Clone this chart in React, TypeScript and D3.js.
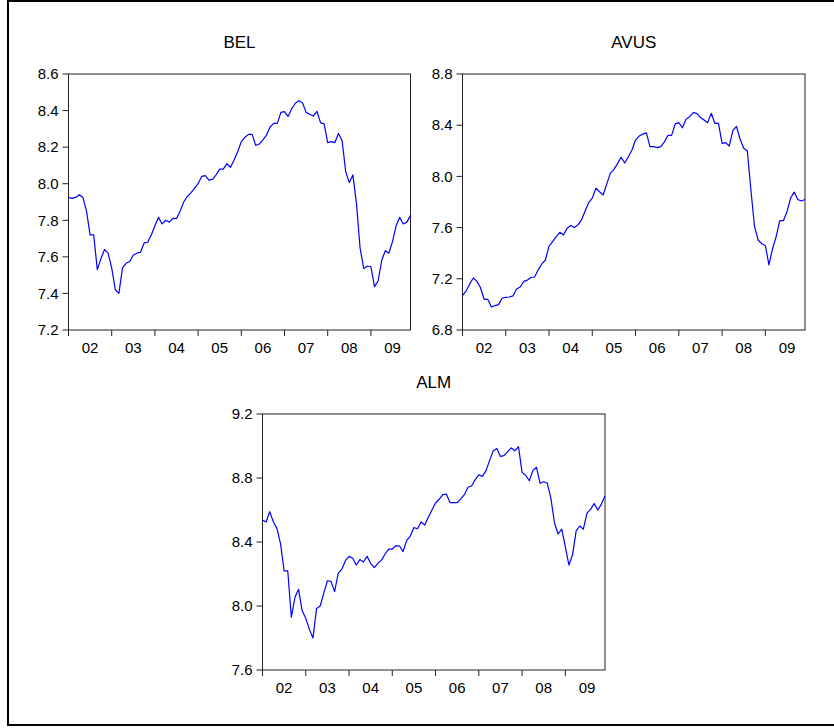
import React from "react";
import * as d3 from "d3";

const YEARS = ["02", "03", "04", "05", "06", "07", "08", "09"];
const MONTHS_PER_YEAR = 12;

const BEL = [
  7.925, 7.92, 7.925, 7.94, 7.925, 7.85, 7.72, 7.72, 7.53, 7.59, 7.64, 7.62,
  7.54, 7.42, 7.40, 7.54, 7.565, 7.575, 7.61, 7.62, 7.625, 7.676, 7.68, 7.72,
  7.77, 7.816, 7.78, 7.80, 7.79, 7.81, 7.81, 7.85, 7.90, 7.93, 7.95, 7.975,
  8.00, 8.04, 8.044, 8.02, 8.024, 8.048, 8.08, 8.08, 8.11, 8.09, 8.13, 8.175,
  8.23, 8.254, 8.27, 8.27, 8.21, 8.217, 8.24, 8.266, 8.31, 8.33, 8.33, 8.39,
  8.394, 8.367, 8.41, 8.44, 8.454, 8.443, 8.39, 8.38, 8.37, 8.396, 8.334, 8.327,
  8.225, 8.23, 8.225, 8.275, 8.235, 8.066, 8.006, 8.048, 7.89, 7.647, 7.537, 7.55,
  7.546, 7.437, 7.468, 7.58, 7.634, 7.62, 7.683, 7.77, 7.816, 7.78, 7.79, 7.827,
];

const AVUS = [
  7.068, 7.105, 7.16, 7.206, 7.18, 7.13, 7.04, 7.04, 6.98, 6.99, 6.998, 7.05,
  7.055, 7.058, 7.066, 7.12, 7.136, 7.18, 7.19, 7.21, 7.214, 7.27, 7.316, 7.347,
  7.456, 7.49, 7.53, 7.563, 7.542, 7.594, 7.617, 7.60, 7.62, 7.66, 7.73, 7.795,
  7.83, 7.907, 7.88, 7.855, 7.94, 8.024, 8.055, 8.10, 8.15, 8.105, 8.154, 8.206,
  8.284, 8.315, 8.33, 8.34, 8.232, 8.232, 8.225, 8.232, 8.27, 8.32, 8.32, 8.41,
  8.42, 8.38, 8.446, 8.467, 8.498, 8.493, 8.46, 8.44, 8.42, 8.493, 8.415, 8.415,
  8.258, 8.264, 8.238, 8.36, 8.39, 8.29, 8.22, 8.198, 7.894, 7.607, 7.503, 7.474,
  7.46, 7.308, 7.435, 7.53, 7.654, 7.654, 7.724, 7.83, 7.878, 7.82, 7.808, 7.82,
];

const ALM = [
  8.537, 8.525, 8.59, 8.527, 8.485, 8.39, 8.22, 8.22, 7.93, 8.054, 8.104, 7.97,
  7.923, 7.854, 7.80, 7.985, 8.00, 8.08, 8.158, 8.154, 8.09, 8.204, 8.23, 8.283,
  8.31, 8.298, 8.256, 8.29, 8.275, 8.31, 8.267, 8.24, 8.267, 8.287, 8.325, 8.356,
  8.356, 8.377, 8.375, 8.34, 8.41, 8.437, 8.49, 8.483, 8.525, 8.506, 8.554, 8.60,
  8.644, 8.667, 8.696, 8.70, 8.646, 8.646, 8.646, 8.67, 8.696, 8.742, 8.75, 8.79,
  8.82, 8.81, 8.846, 8.91, 8.97, 8.985, 8.935, 8.94, 8.965, 8.988, 8.97, 8.996,
  8.835, 8.817, 8.783, 8.846, 8.867, 8.767, 8.777, 8.767, 8.673, 8.517, 8.45, 8.48,
  8.37, 8.256, 8.32, 8.47, 8.50, 8.48, 8.58, 8.604, 8.64, 8.60, 8.637, 8.687,
];

const BEL_TICKS = [7.2, 7.4, 7.6, 7.8, 8.0, 8.2, 8.4, 8.6];
const AVUS_TICKS = [6.8, 7.2, 7.6, 8.0, 8.4, 8.8];
const ALM_TICKS = [7.6, 8.0, 8.4, 8.8, 9.2];

const FONT = "Arial, 'Liberation Sans', Helvetica, sans-serif";

type PanelProps = {
  title: string;
  data: number[];
  ticks: number[];
  x0: number;
  y0: number;
  w: number;
  h: number;
};

function Panel({ title, data, ticks, x0, y0, w, h }: PanelProps) {
  const x = d3.scaleLinear().domain([0, data.length - 1]).range([x0, x0 + w]);
  const y = d3
    .scaleLinear()
    .domain([ticks[0], ticks[ticks.length - 1]])
    .range([y0 + h, y0]);
  const line = d3
    .line<number>()
    .x((_, i) => x(i))
    .y((d) => y(d));
  const fmt = d3.format(".1f");
  return (
    <g>
      <text
        x={x0 + w / 2}
        y={y0 - 26}
        textAnchor="middle"
        fontFamily={FONT}
        fontSize={17}
        fill="#000"
      >
        {title}
      </text>
      <rect x={x0} y={y0} width={w} height={h} fill="none" stroke="#222" strokeWidth={1} />
      {ticks.map((t) => (
        <g key={t}>
          <line x1={x0 - 6} x2={x0} y1={y(t)} y2={y(t)} stroke="#222" strokeWidth={1} />
          <text
            x={x0 - 10}
            y={y(t)}
            dy="0.35em"
            textAnchor="end"
            fontFamily={FONT}
            fontSize={15}
            fill="#000"
          >
            {fmt(t)}
          </text>
        </g>
      ))}
      {YEARS.map((yr, k) => (
        <g key={yr}>
          <line
            x1={x(k * MONTHS_PER_YEAR)}
            x2={x(k * MONTHS_PER_YEAR)}
            y1={y0 + h}
            y2={y0 + h + 6}
            stroke="#222"
            strokeWidth={1}
          />
          <text
            x={x(k * MONTHS_PER_YEAR + MONTHS_PER_YEAR / 2)}
            y={y0 + h + 23}
            textAnchor="middle"
            fontFamily={FONT}
            fontSize={15}
            fill="#000"
          >
            {yr}
          </text>
        </g>
      ))}
      <path d={line(data) || ""} fill="none" stroke="#0000ff" strokeWidth={1.2} strokeLinejoin="round" />
    </g>
  );
}

export default function App() {
  return (
    <div style={{ position: "absolute", left: 0, top: 0 }}>
      <svg width={834} height={728} style={{ display: "block", background: "#fff" }}>
        <rect x={0} y={0} width={834} height={728} fill="#fff" />
        <line x1={8} x2={8} y1={0} y2={726} stroke="#000" strokeWidth={2} />
        <line x1={8} x2={834} y1={1} y2={1} stroke="#000" strokeWidth={2} />
        <line x1={8} x2={834} y1={725} y2={725} stroke="#000" strokeWidth={2} />
        <Panel title="BEL" data={BEL} ticks={BEL_TICKS} x0={68.5} y0={74} w={342} h={256} />
        <Panel title="AVUS" data={AVUS} ticks={AVUS_TICKS} x0={462.5} y0={74} w={342.5} h={256} />
        <Panel title="ALM" data={ALM} ticks={ALM_TICKS} x0={262.5} y0={414} w={342.5} h={256} />
      </svg>
    </div>
  );
}
